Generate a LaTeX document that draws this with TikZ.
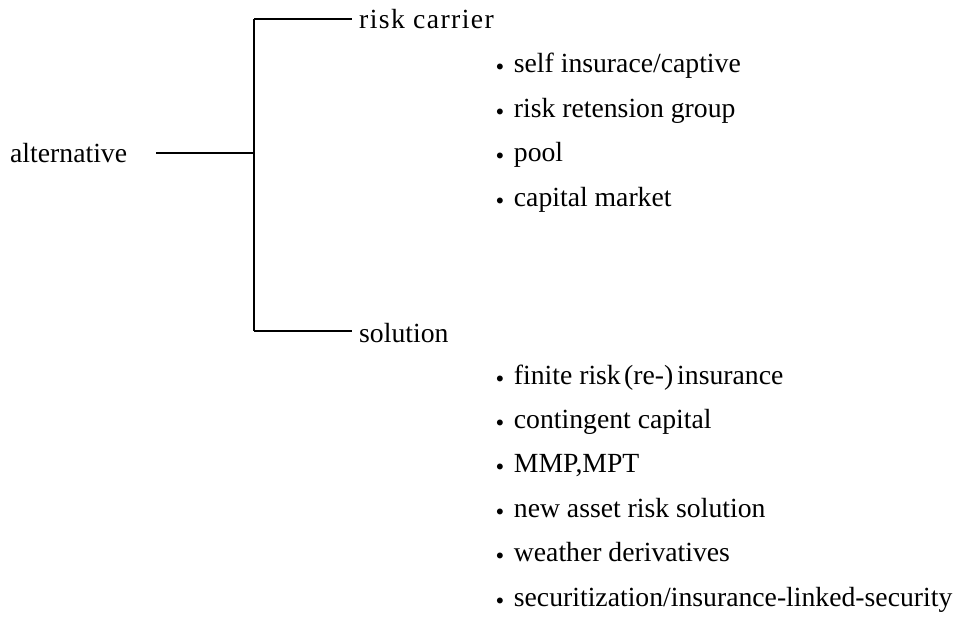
\documentclass[tikz,border=0pt]{standalone}
\usepackage{fontspec}
\setmainfont{Liberation Serif}
\newfontfamily\cjk{Noto Sans CJK JP}
\newcommand{\bul}{\raisebox{-5pt}{\cjk ・}}
\begin{document}
\begin{tikzpicture}[x=1pt,y=-1pt,
  lbl/.style={anchor=base west,inner sep=0pt,font=\fontsize{27.7}{30}\selectfont},
  itm/.style={lbl},
  br/.style={line width=1.8pt}]
\useasboundingbox (0,0) rectangle (960,617);
\node[lbl] (alt) at (10,163) {alternative};
\node[lbl] (rc) at (359,29) {\addfontfeatures{LetterSpace=5}risk carrier};
\node[lbl] (sol) at (359,342) {solution};
\coordinate (s) at (156,153);
\coordinate (j) at (254,153);
\coordinate (jt) at (254,19);
\coordinate (jb) at (254,331);
\draw[br] (s) -- (j);
\draw[br] (jt) -- (jb);
\draw[br] (jt) -- ([xshift=-7pt]jt -| rc.west);
\draw[br] (jb) -- ([xshift=-7pt]jb -| sol.west);
\node[itm] (i1) at (486,73) {\bul self insurace/captive};
\node[itm] (i2) at (486,117.4) {\bul risk retension group};
\node[itm] (i3) at (486,161.8) {\bul pool};
\node[itm] (i4) at (486,206.2) {\bul capital market};
\node[itm] (k1) at (486,384) {\bul finite risk\hspace{0.12em}(re-)\hspace{0.14em}insurance};
\node[itm] (k2) at (486,428.4) {\bul contingent capital};
\node[itm] (k3) at (486,472.8) {\bul MMP,MPT};
\node[itm] (k4) at (486,517.2) {\bul new asset risk solution};
\node[itm] (k5) at (486,561.6) {\bul weather derivatives};
\node[itm] (k6) at (486,606) {\bul securitization/insurance-linked-security};
\end{tikzpicture}
\end{document}
